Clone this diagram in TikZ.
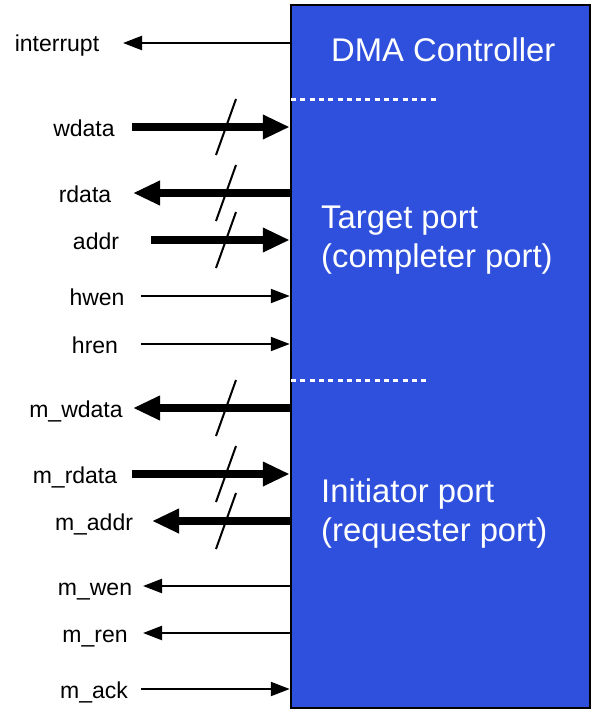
\documentclass[tikz,border=0pt]{standalone}
\usepackage{fontspec}
\setmainfont{Liberation Sans}
\usetikzlibrary{arrows.meta,positioning,calc}
\definecolor{dmablue}{RGB}{47,80,220}

\begin{document}
\begin{tikzpicture}[
  x=1pt,y=-1pt,
  dmabox/.style={draw=black,line width=2.5pt,fill=dmablue,minimum width=299pt,minimum height=703pt,inner sep=0pt},
  title/.style={font=\fontsize{32.8}{39}\selectfont,text=white,inner sep=0pt,anchor=base west},
  lab/.style={font=\fontsize{23}{27}\selectfont,inner sep=0pt,anchor=base},
  sig/.style={-{Triangle[length=19pt,width=14pt]},line width=2.2pt},
  bus/.style={-{Triangle[length=27pt,width=23pt]},line width=8pt},
  busmark/.style={line width=2pt},
  sepline/.style={white,line width=3pt,dash pattern=on 5pt off 4.3pt}]
  \useasboundingbox (0,0) rectangle (596,717);
  \node[dmabox] (dma) at (440.5,356.5) {};
  % titles inside the block
  \node[title] (ttl) at (331,62) {DMA Controller};
  \node[title] (tgt1) at (321,228) {Target port};
  \node[title] (tgt2) at (321,267) {(completer port)};
  \node[title] (ini1) at (321,502) {Initiator port};
  \node[title] (ini2) at (321,541) {(requester port)};
  \coordinate (sep1) at (291,99);
  \coordinate (sep2) at (291,380);
  \draw[sepline] (sep1) -- ++(146,0);
  \draw[sepline] (sep2) -- ++(136,0);
  % signal names
  \node[lab] (interrupt) at (57,52) {interrupt};
  \node[lab] (wdata) at (84,136) {wdata};
  \node[lab] (rdata) at (85,202) {rdata};
  \node[lab] (addr) at (96,249) {addr};
  \node[lab] (hwen) at (97,305) {hwen};
  \node[lab] (hren) at (95,353) {hren};
  \node[lab] (mwdata) at (76,417) {m\_wdata};
  \node[lab] (mrdata) at (75,483) {m\_rdata};
  \node[lab] (maddr) at (94,530) {m\_addr};
  \node[lab] (mwen) at (95,595) {m\_wen};
  \node[lab] (mren) at (95,642) {m\_ren};
  \node[lab] (mack) at (94,698) {m\_ack};
  % outer ends of the connectors
  \coordinate (interrupt-o) at (123,43);
  \coordinate (wdata-o) at (132,127);
  \coordinate (rdata-o) at (133,193);
  \coordinate (addr-o) at (151,240);
  \coordinate (hwen-o) at (141,296);
  \coordinate (hren-o) at (141,344);
  \coordinate (mwdata-o) at (133,408);
  \coordinate (mrdata-o) at (132,474);
  \coordinate (maddr-o) at (152,521);
  \coordinate (mwen-o) at (143,586);
  \coordinate (mren-o) at (143,633);
  \coordinate (mack-o) at (141,689);
  \coordinate (slashx) at (226,0);
  % connectors
  \draw[sig] (interrupt-o -| dma.west) -- (interrupt-o);
  \draw[bus] (wdata-o) -- (wdata-o -| dma.west);
  \draw[bus] (rdata-o -| dma.west) -- (rdata-o);
  \draw[bus] (addr-o) -- (addr-o -| dma.west);
  \draw[sig] (hwen-o) -- (hwen-o -| dma.west);
  \draw[sig] (hren-o) -- (hren-o -| dma.west);
  \draw[bus] (mwdata-o -| dma.west) -- (mwdata-o);
  \draw[bus] (mrdata-o) -- (mrdata-o -| dma.west);
  \draw[bus] (maddr-o -| dma.west) -- (maddr-o);
  \draw[sig] (mwen-o -| dma.west) -- (mwen-o);
  \draw[sig] (mren-o -| dma.west) -- (mren-o);
  \draw[sig] (mack-o) -- (mack-o -| dma.west);
  % bus width marks
  \foreach \b in {wdata,rdata,addr,mwdata,mrdata,maddr}
    \draw[busmark] (\b-o -| slashx) ++(-10,28) -- ++(20,-56);
\end{tikzpicture}
\end{document}
